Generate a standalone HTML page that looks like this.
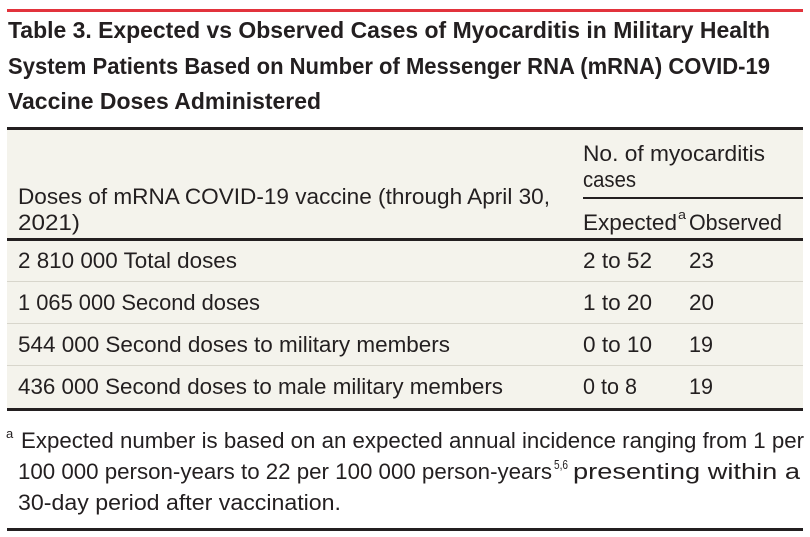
<!DOCTYPE html>
<html><head><meta charset="utf-8"><style>
body{margin:0;width:810px;height:537px;background:#fff;overflow:hidden}
svg{display:block}
text{font-family:"Liberation Sans",sans-serif;fill:#231f20;font-size:22px}
.ti{font-weight:bold;font-size:23px}
.s{font-size:13px}
</style></head><body>
<svg width="810" height="537" viewBox="0 0 810 537">
<rect x="7" y="9" width="796" height="3" fill="#e2333c"/>
<text class="ti" x="8" y="38" textLength="762" lengthAdjust="spacingAndGlyphs">Table 3. Expected vs Observed Cases of Myocarditis in Military Health</text>
<text class="ti" x="8" y="74" textLength="762" lengthAdjust="spacingAndGlyphs">System Patients Based on Number of Messenger RNA (mRNA) COVID-19</text>
<text class="ti" x="8" y="109" textLength="313" lengthAdjust="spacingAndGlyphs">Vaccine Doses Administered</text>
<rect x="7" y="127" width="796" height="283" fill="#f4f3ec"/>
<rect x="7" y="127" width="796" height="3" fill="#231f20"/>
<rect x="583" y="197" width="220" height="2" fill="#231f20"/>
<rect x="7" y="238" width="796" height="3" fill="#231f20"/>
<rect x="7" y="281" width="796" height="1" fill="#d8d6cc"/>
<rect x="7" y="323" width="796" height="1" fill="#d8d6cc"/>
<rect x="7" y="365" width="796" height="1" fill="#d8d6cc"/>
<rect x="7" y="408" width="796" height="3" fill="#231f20"/>
<rect x="7" y="528" width="796" height="3" fill="#231f20"/>
<text x="583" y="161" textLength="182" lengthAdjust="spacingAndGlyphs">No. of myocarditis</text>
<text x="583" y="187" textLength="53" lengthAdjust="spacingAndGlyphs">cases</text>
<text x="18" y="204" textLength="532" lengthAdjust="spacingAndGlyphs">Doses of mRNA COVID-19 vaccine (through April 30,</text>
<text x="18" y="230" textLength="62" lengthAdjust="spacingAndGlyphs">2021)</text>
<text x="583" y="230" textLength="94" lengthAdjust="spacingAndGlyphs">Expected</text>
<text class="s" x="678" y="219" textLength="8" lengthAdjust="spacingAndGlyphs">a</text>
<text x="689" y="230" textLength="93" lengthAdjust="spacingAndGlyphs">Observed</text>
<text x="18" y="268" textLength="219" lengthAdjust="spacingAndGlyphs">2 810 000 Total doses</text>
<text x="583" y="268" textLength="69" lengthAdjust="spacingAndGlyphs">2 to 52</text>
<text x="689" y="268" textLength="25" lengthAdjust="spacingAndGlyphs">23</text>
<text x="18" y="310" textLength="242" lengthAdjust="spacingAndGlyphs">1 065 000 Second doses</text>
<text x="583" y="310" textLength="69" lengthAdjust="spacingAndGlyphs">1 to 20</text>
<text x="689" y="310" textLength="25" lengthAdjust="spacingAndGlyphs">20</text>
<text x="18" y="352" textLength="432" lengthAdjust="spacingAndGlyphs">544 000 Second doses to military members</text>
<text x="583" y="352" textLength="69" lengthAdjust="spacingAndGlyphs">0 to 10</text>
<text x="689" y="352" textLength="24" lengthAdjust="spacingAndGlyphs">19</text>
<text x="18" y="394" textLength="485" lengthAdjust="spacingAndGlyphs">436 000 Second doses to male military members</text>
<text x="583" y="394" textLength="54" lengthAdjust="spacingAndGlyphs">0 to 8</text>
<text x="689" y="394" textLength="24" lengthAdjust="spacingAndGlyphs">19</text>
<text class="s" x="6" y="438">a</text>
<text x="21" y="448" textLength="783" lengthAdjust="spacingAndGlyphs">Expected number is based on an expected annual incidence ranging from 1 per</text>
<text x="18" y="479" textLength="534" lengthAdjust="spacingAndGlyphs">100 000 person-years to 22 per 100 000 person-years</text>
<text class="s" x="554" y="469" textLength="14" lengthAdjust="spacingAndGlyphs">5,6</text>
<text x="573" y="479" textLength="227" lengthAdjust="spacingAndGlyphs">presenting within a</text>
<text x="18" y="510" textLength="323" lengthAdjust="spacingAndGlyphs">30-day period after vaccination.</text>
</svg>
</body></html>
